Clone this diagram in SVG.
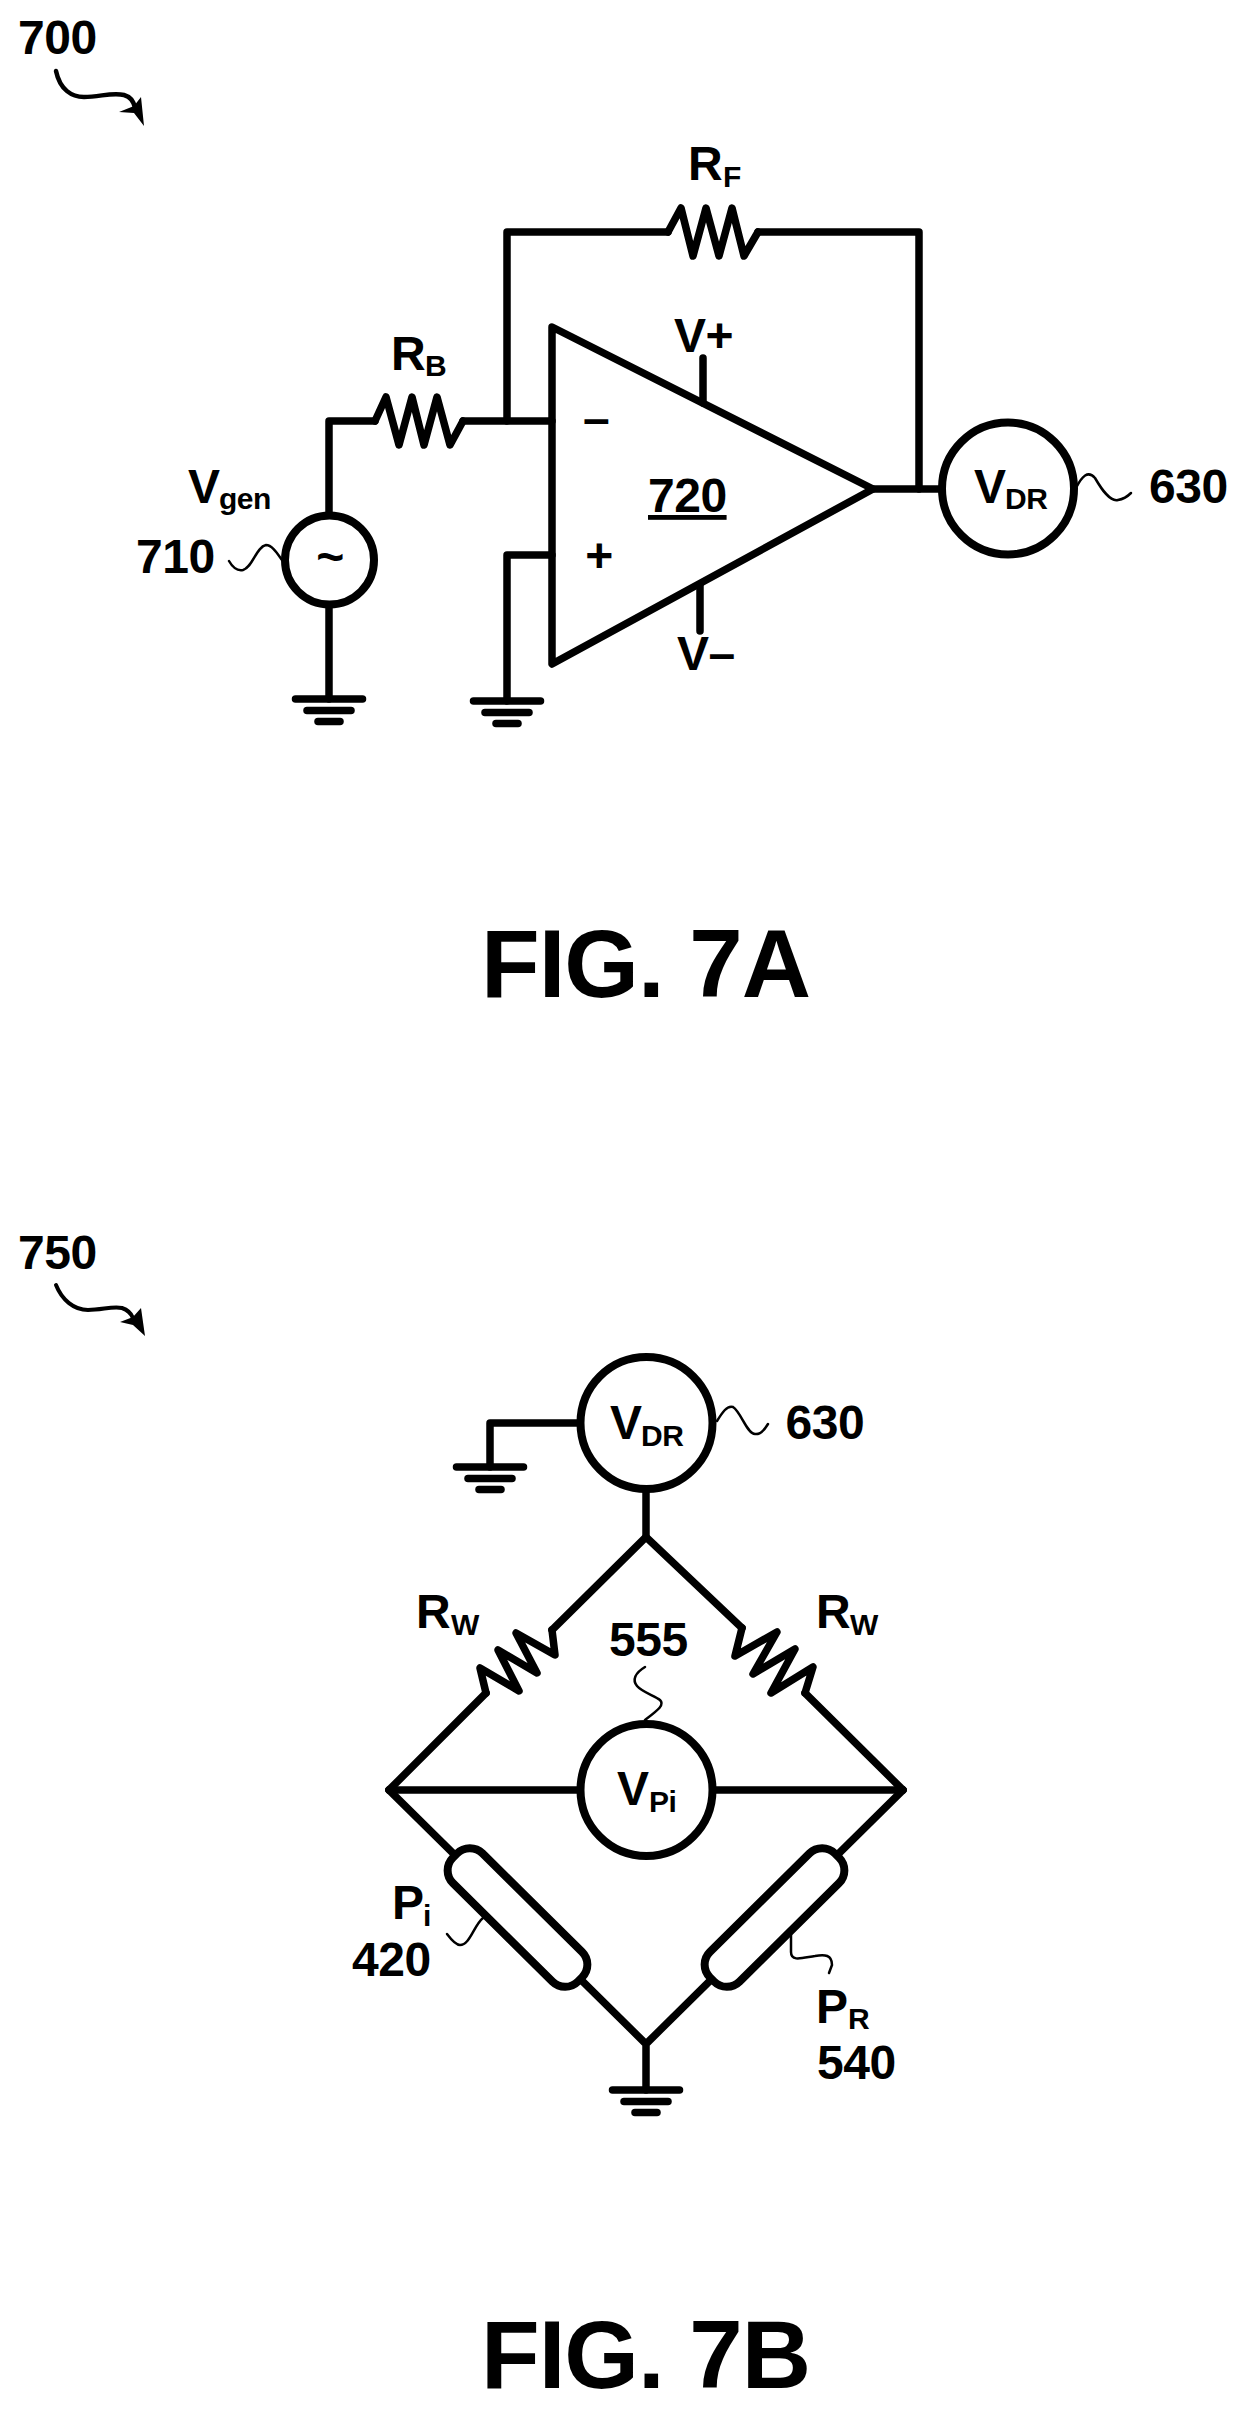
<svg xmlns="http://www.w3.org/2000/svg" width="1244" height="2409" viewBox="0 0 1244 2409">
<style>
text{font-family:"Liberation Sans",Arial,sans-serif;font-weight:bold;font-size:48px;letter-spacing:-.5px;fill:#000}
.sub{font-size:30px}
.fig{font-size:96px;letter-spacing:-1px}
.w{fill:none;stroke:#000;stroke-width:7.5;stroke-linejoin:round;stroke-linecap:round}
.c{fill:#fff;stroke:#000;stroke-width:8}
.s{fill:none;stroke:#000;stroke-width:2.5;stroke-linecap:round}
.g{stroke:#000;stroke-width:7.5;stroke-linecap:round}
</style>
<defs>
<g id="gnd"><line class="g" x1="-33.5" y1="0" x2="33.5" y2="0"/><line class="g" x1="-22" y1="11.5" x2="22" y2="11.5"/><line class="g" x1="-11" y1="22.5" x2="11" y2="22.5"/></g>
</defs>
<rect width="1244" height="2409" fill="#fff"/>
<g id="connectors">
<path class="w" d="M329,517V421H375M463,421H552"/>
<path class="w" d="M507,421V232H668M758,232H919V489"/>
<path class="w" d="M552,555H507V701"/>
<path class="w" d="M873,489H941"/>
<path class="w" d="M329,606V699"/>
<path class="w" d="M703,358V403M700,585V631"/>
<path class="w" d="M490,1467V1423H582"/>
<path class="w" d="M646,1490V1537"/>
<path class="w" d="M552,1630L646,1537L742,1628M486,1693L389,1790M805,1693L903,1790"/>
<path class="w" d="M389,1790H580M713,1790H903"/>
<path class="w" d="M389,1790L646,2044L903,1790M646,2044V2090"/>
</g>
<g id="ref700"><text x="18" y="54">700</text><path d="M56,71C60,90 72,97 84,97C100,97 112,92 124,95C131,97 134,102 135,108" fill="none" stroke="#000" stroke-width="4.5" stroke-linecap="round"/><path d="M144,126L134,113L119,112L134,106L141,97Z"/></g>
<g id="rf"><path class="w" d="M668,232L681,208L693,256L706,208L719,256L732,208L744,256L758,232"/><text x="688" y="180">R<tspan class="sub" x="723" y="187">F</tspan></text></g>
<g id="rb"><path class="w" d="M375,421L386,397L399,445L412,397L424,445L437,397L450,445L463,421"/><text x="391" y="370">R<tspan class="sub" x="425" y="376">B</tspan></text></g>
<g id="opamp720"><path class="w" d="M552,327L873,489L552,664Z"/><text x="583" y="435">–</text><text x="599" y="572" text-anchor="middle">+</text><text x="648" y="512" text-decoration="underline">720</text><text x="674" y="352">V+</text><text x="677" y="670">V–</text></g>
<g id="vgen"><circle class="c" cx="329.5" cy="560" r="44.5"/><text x="330" y="573" text-anchor="middle">~</text><text x="188" y="503">V<tspan class="sub" x="219" y="509">gen</tspan></text><text x="136" y="573">710</text><path class="s" d="M229,561C233,568 238,571 243,570C253,567 256,547 266,545C272,545 277,553 282,560"/></g>
<g id="gnd1"><use href="#gnd" x="329" y="699"/></g>
<g id="gnd2"><use href="#gnd" x="507" y="701"/></g>
<g id="vdr1"><circle class="c" cx="1008" cy="488.5" r="66"/><text x="974" y="503">V<tspan class="sub" x="1005" y="509">DR</tspan></text><text x="1149" y="503">630</text><path class="s" d="M1076,488C1082,476 1088,470 1095,478C1102,490 1110,502 1118,500C1124,499 1128,496 1131,493"/></g>
<g id="fig7a"><text class="fig" x="481" y="997">FIG. 7A</text></g>
<g id="ref750"><text x="18" y="1269">750</text><path d="M56,1285C62,1300 74,1310 88,1310C102,1310 112,1306 122,1308C128,1310 131,1313 133,1318" fill="none" stroke="#000" stroke-width="4" stroke-linecap="round"/><path d="M145,1336L133,1325L120,1322L133,1317L141,1308Z"/></g>
<g id="vdr2"><circle class="c" cx="646.5" cy="1423" r="66"/><text x="610" y="1439">V<tspan class="sub" x="641" y="1446">DR</tspan></text><text x="785.5" y="1439">630</text><path class="s" d="M717,1421C722,1413 727,1405 733,1407C741,1412 747,1434 755,1434C761,1435 765,1429 768,1424"/></g>
<g id="gnd3"><use href="#gnd" x="490" y="1467"/></g>
<g id="rw1"><path class="w" d="M552,1630L555,1655L516,1633L537,1673L498,1650L519,1691L480,1668L486,1693"/><text x="416" y="1628">R<tspan class="sub" x="451" y="1635">W</tspan></text></g>
<g id="rw2"><path class="w" d="M742,1628L735,1656L777,1632L753,1674L795,1649L771,1693L813,1667L805,1693"/><text x="816" y="1628">R<tspan class="sub" x="850" y="1635">W</tspan></text></g>
<g id="vpi"><circle class="c" cx="646.5" cy="1790" r="66"/><text x="617" y="1805">V<tspan class="sub" x="649" y="1812">Pi</tspan></text><text x="609" y="1656">555</text><path class="s" d="M645,1667C635,1673 632,1680 637,1686C642,1692 655,1696 660,1700C665,1705 658,1710 645,1720"/></g>
<g id="pi420"><rect class="c" x="-88" y="-21" width="176" height="42" rx="18" transform="translate(517.5,1917.5) rotate(44.7)"/><text x="392" y="1919">P<tspan class="sub" x="423" y="1926">i</tspan></text><text x="352" y="1976">420</text><path class="s" d="M483,1918C474,1925 470,1945 460,1945C455,1945 450,1938 447,1934"/></g>
<g id="pr540"><rect class="c" x="-88" y="-21" width="176" height="42" rx="18" transform="translate(774.5,1917.5) rotate(-44.7)"/><text x="816" y="2023">P<tspan class="sub" x="848" y="2029">R</tspan></text><text x="817" y="2079">540</text><path class="s" d="M791,1935V1952C791,1962 802,1958 815,1956C825,1954 832,1955 832,1965L829,1973"/></g>
<g id="gnd4"><use href="#gnd" x="646" y="2090"/></g>
<g id="fig7b"><text class="fig" x="481" y="2388">FIG. 7B</text></g>
</svg>
